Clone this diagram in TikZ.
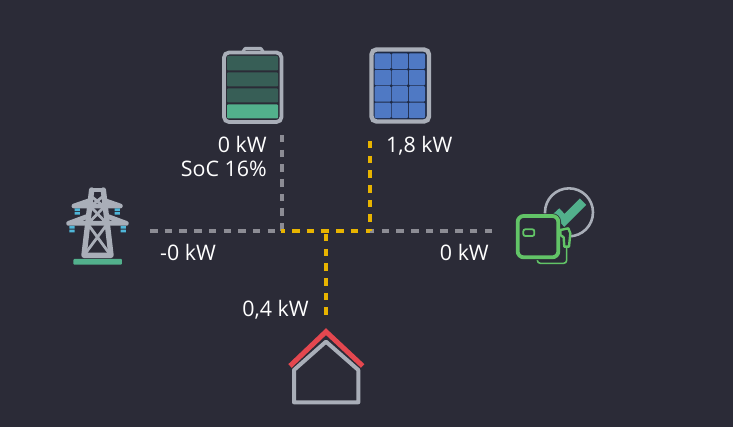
\documentclass[tikz,border=0pt]{standalone}
\usepackage{fontspec}
\setmainfont{Open Sans}
\definecolor{bgc}{HTML}{2B2B37}
\definecolor{iconGray}{HTML}{A9AEB8}
\definecolor{flowGray}{HTML}{8C8C94}
\definecolor{flowYellow}{HTML}{E8B400}
\definecolor{batDark}{HTML}{375E56}
\definecolor{teal}{HTML}{52B08C}
\definecolor{navy}{HTML}{1E2A44}
\definecolor{panelBlue}{HTML}{4F79C4}
\definecolor{invGreen}{HTML}{62C467}
\definecolor{roofRed}{HTML}{E4474F}
\definecolor{insul}{HTML}{4FB6D8}
\tikzset{
  x=1pt,y=-1pt,
  flow/.style={line width=4.6pt,dash pattern=on 7.5pt off 7.2pt},
  idle/.style={flow,draw=flowGray},
  active/.style={flow,draw=flowYellow},
  lbl/.style={text=white,font=\fontsize{21.4pt}{25pt}\selectfont,inner sep=0pt},
  tower/.style={draw=iconGray,line width=4.8pt,line join=round,line cap=round},
  towerthin/.style={draw=iconGray,line width=2.8pt},
  zoomA/.style={shift={(60,180)},x=0.3333pt,y=-0.3333pt},
  zoomB/.style={shift={(505,180)},x=0.3333pt,y=-0.3333pt},
  zoomC/.style={shift={(270,215)},x=0.3333pt,y=-0.3333pt},
  cell/.style={fill=panelBlue,rounded corners=1pt},
}
\begin{document}
\begin{tikzpicture}
\fill[bgc] (0,0) rectangle (733,427);
\useasboundingbox (0,0) rectangle (733,427);

% connector ends
\coordinate (gridEnd) at (150,231);
\coordinate (jB) at (282,231);
\coordinate (jH) at (326,231);
\coordinate (jS) at (370,231);
\coordinate (invEnd) at (492,231);
\coordinate (batEnd) at (282,135);
\coordinate (solEnd) at (370,141);
\coordinate (houseEnd) at (326,318);

\draw[idle] (gridEnd) -- (jB);
\draw[idle] (invEnd) -- (jS);
\draw[idle] (batEnd) -- (jB);
\draw[active] (solEnd) -- (jS);
\draw[active] (jB) ++(10,0) -- (jS);
\draw[active] (jH) ++(0,3) -- (houseEnd);
\draw[flowYellow,line width=4.6pt] (281,231) -- (285,231);

% battery
\draw[iconGray,line width=3pt,line join=round,fill=bgc]
  (242,53) -- (245,48.5) -- (261,48.5) -- (264,53) -- cycle;
\draw[iconGray,line width=3.8pt,fill=bgc,rounded corners=5pt] (224,52.5) rectangle (281.5,122);
\fill[batDark,rounded corners=1pt] (227,56) rectangle (278,70.5);
\fill[batDark,rounded corners=1pt] (227,72.5) rectangle (278,86.5);
\fill[batDark,rounded corners=1pt] (227,88.5) rectangle (278,102.5);
\fill[teal,rounded corners=1pt] (227,104.5) rectangle (278,118.5);

% solar panel
\draw[iconGray,line width=4.4pt,fill=navy,rounded corners=5pt] (371.5,49.5) rectangle (429,121.5);
\foreach \cx in {0,1,2}{
  \foreach \cy in {0,1,2,3}{
    \fill[cell] ({374.6+\cx*17.1},{53.4+\cy*16.4}) rectangle ++(16.2,15.5);
  }
}

% grid tower
\begin{scope}[zoomA]
  \draw[tower] (95,30) -- (130,30);
  \draw[tower,line width=5.4pt] (95,30) -- (72,226) -- (153,226) -- (130,30);
  \draw[tower] (42,78) -- (88,62) (135,62) -- (181,78) (42,78) -- (181,78);
  \draw[tower] (26,130) -- (80,110) (145,110) -- (199,130) (26,130) -- (199,130);
  \draw[towerthin] (95,50) -- (130,78) (128,50) -- (93,78)
     (90,78) -- (140,130) (135,78) -- (85,130)
     (82,130) -- (152,226) (143,130) -- (72,226);
  \fill[insul] (44,85) rectangle (60,93) (44,96) rectangle (60,104);
  \fill[insul] (164,85) rectangle (180,93) (164,96) rectangle (180,104);
  \fill[insul] (28,138) rectangle (44,146) (28,149) rectangle (44,157);
  \fill[insul] (182,138) rectangle (198,146) (182,149) rectangle (198,157);
  \fill[teal,rounded corners=1pt] (40,237) rectangle (186,254);
\end{scope}

% inverter
\begin{scope}[zoomB]
  \draw[iconGray,line width=2.6pt] (192,97) circle[radius=72];
  \draw[bgc,line width=12pt] (155,96) -- (178,121) -- (234,65);
  \draw[teal,line width=9pt,line join=miter] (153,94) -- (178,121) -- (234,65);
  \draw[invGreen,line width=1.6pt,rounded corners=3pt] (97,225) -- (97,250) -- (185,250) -- (185,200);
  \draw[bgc,line width=5.4pt,rounded corners=6pt] (38,108) rectangle (160,232);
  \draw[invGreen,line width=3.8pt,rounded corners=6pt,fill=bgc] (38,108) rectangle (160,232);
  \draw[invGreen,line width=1.8pt,rounded corners=2pt] (55,148) rectangle (88,168);
  \draw[invGreen,line width=2.4pt,line join=round,fill=bgc] (166,150) -- (190,145) -- (196,160) -- (192,200) -- (178,200) -- (176,172) -- (166,165) -- cycle;
\end{scope}

% house
\begin{scope}[zoomC]
  \draw[iconGray,line width=4pt,line join=round] (72,465) -- (168,380) -- (265,465) -- (265,562) -- (72,562) -- cycle;
  \draw[roofRed,line width=5pt,line join=miter] (60,453) -- (168,350) -- (278,453);
\end{scope}

% labels
\node[lbl,anchor=base east] (batP) at (267,153) {0 kW};
\node[lbl,anchor=base east] (batS) at (267,177) {SoC 16\%};
\node[lbl,anchor=base west] (solP) at (386,153) {1,8 kW};
\node[lbl,anchor=base west] (gridP) at (160,261) {-0 kW};
\node[lbl,anchor=base east] (invP) at (489,261) {0 kW};
\node[lbl,anchor=base east] (houseP) at (309,317) {0,4 kW};
\end{tikzpicture}
\end{document}
